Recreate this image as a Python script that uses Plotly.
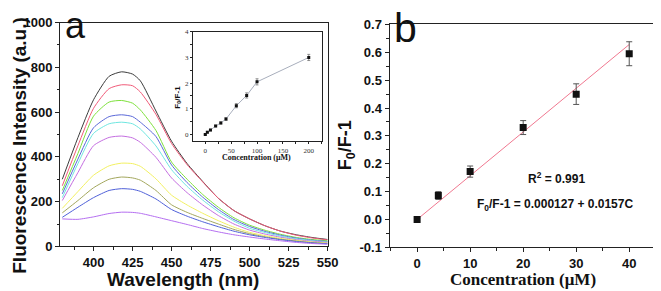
import plotly.graph_objects as go

# ---------------- Panel a: fluorescence spectra ----------------
wavelength = [380, 390, 400, 410, 418, 425, 430, 440, 450, 460, 470, 480, 490, 500, 510, 520, 530, 540, 550]
spec_black = [300, 486, 655, 760, 780, 770, 740, 605, 470, 370, 290, 215, 160, 123, 92, 68, 52, 40, 31]
spec_red = [271, 450, 617, 705, 722, 718, 690, 590, 460, 365, 288, 215, 160, 123, 92, 68, 50, 38, 29]
spec_green = [250, 415, 582, 645, 652, 640, 610, 518, 377, 300, 232, 175, 128, 95, 72, 54, 40, 31, 25]
spec_blue = [235, 390, 530, 580, 588, 580, 555, 491, 364, 285, 220, 165, 120, 89, 67, 50, 37, 28, 22]
spec_cyan = [218, 370, 505, 548, 555, 548, 525, 449, 343, 268, 207, 155, 113, 81, 62, 46, 34, 26, 20]
spec_magenta = [205, 330, 450, 487, 493, 485, 465, 398, 306, 240, 185, 138, 100, 73, 55, 41, 30, 23, 18]
spec_yellow = [170, 245, 318, 360, 372, 370, 358, 302, 229, 185, 148, 115, 86, 63, 48, 36, 27, 20, 15]
spec_olive = [150, 205, 262, 300, 310, 306, 296, 250, 186, 152, 125, 100, 76, 57, 43, 32, 24, 17, 13]
spec_blue2 = [130, 175, 218, 250, 258, 255, 246, 212, 165, 135, 110, 88, 68, 52, 40, 30, 22, 16, 12]
spec_purple = [123, 121, 132, 147, 153, 152, 148, 132, 115, 98, 80, 65, 52, 42, 33, 25, 18, 13, 10]

spectra = [spec_black, spec_red, spec_green, spec_blue, spec_cyan,
           spec_magenta, spec_yellow, spec_olive, spec_blue2, spec_purple]
spec_colors = ["#3c3c3c", "#f05a78", "#7ee03c", "#5a68d8", "#6ee6e0",
               "#c46ee0", "#f2f060", "#a2a65c", "#4f60d8", "#b46ef0"]

wl_ticks = [400, 425, 450, 475, 500, 525, 550]
int_ticks = [0, 200, 400, 600, 800, 1000]

# ---------------- Inset: F0/F-1 vs concentration ----------------
inset_conc = [0, 4, 10, 20, 30, 40, 60, 80, 100, 200]
inset_ratio = [0.0, 0.09, 0.17, 0.33, 0.45, 0.60, 1.12, 1.52, 2.05, 3.0]
inset_err = [0.02, 0.03, 0.03, 0.03, 0.04, 0.05, 0.08, 0.1, 0.12, 0.12]

# ---------------- Panel b: linear range ----------------
conc_b = [0, 4, 10, 20, 30, 40]
ratio_b = [0.0, 0.086, 0.172, 0.33, 0.45, 0.595]
err_b = [0.005, 0.014, 0.02, 0.025, 0.037, 0.043]
fit_intercept = 0.000127
fit_slope = 0.0157
fit_x = [0, 40]

conc_ticks = [0, 10, 20, 30, 40]
ratio_ticks = [-0.1, 0.0, 0.1, 0.2, 0.3, 0.4, 0.5, 0.6, 0.7]

W, H = 661, 291
def px(x):
    return x / W
def py(y):
    return 1 - y / H

SANS = "Liberation Sans, Arial, sans-serif"
SERIF = "Liberation Serif, Times New Roman, serif"

fig = go.Figure()

for vals, col in zip(spectra, spec_colors):
    fig.add_trace(go.Scatter(x=wavelength, y=vals, mode="lines",
                             line=dict(color=col, width=1, shape="spline", smoothing=0.6),
                             xaxis="x", yaxis="y", showlegend=False, hoverinfo="skip"))

fig.add_trace(go.Scatter(x=inset_conc, y=inset_ratio, mode="lines+markers",
                         line=dict(color="#a8aebc", width=1),
                         marker=dict(symbol="square", size=3, color="#111"),
                         error_y=dict(type="data", array=inset_err, color="#666", thickness=0.7, width=1.5),
                         xaxis="x2", yaxis="y2", showlegend=False))

fig.add_trace(go.Scatter(x=fit_x, y=[fit_intercept + fit_slope * v for v in fit_x], mode="lines",
                         line=dict(color="#f07890", width=1),
                         xaxis="x3", yaxis="y3", showlegend=False))
fig.add_trace(go.Scatter(x=conc_b, y=ratio_b, mode="markers",
                         marker=dict(symbol="square", size=7, color="#111"),
                         error_y=dict(type="data", array=err_b, color="#555", thickness=1, width=3),
                         xaxis="x3", yaxis="y3", showlegend=False))

axis_common = dict(showgrid=False, zeroline=False, showline=True, linecolor="#222", linewidth=1,
                   mirror=True, ticks="outside", tickcolor="#222", tickwidth=1)
f13 = dict(family=SANS, size=13, color="#111")
small7 = dict(family=SERIF, size=7, color="#333")

def bold(vals, fmt="{}"):
    return ["<b>" + fmt.format(v) + "</b>" for v in vals]

fig.update_layout(
    width=W, height=H, margin=dict(l=0, r=0, t=0, b=0),
    paper_bgcolor="white", plot_bgcolor="white",
    xaxis=dict(**axis_common, domain=[px(53), px(325)], range=[378.6, 550],
               tickmode="array", tickvals=wl_ticks, ticktext=bold(wl_ticks),
               ticklen=4, minor=dict(ticks="outside", ticklen=2.5, dtick=12.5, tick0=400, tickcolor="#222"),
               tickfont=f13, anchor="y"),
    yaxis=dict(**axis_common, domain=[py(244), py(8)], range=[0, 1000],
               tickmode="array", tickvals=int_ticks, ticktext=bold(int_ticks),
               ticklen=4, minor=dict(ticks="outside", ticklen=2.5, dtick=100, tick0=0, tickcolor="#222"),
               tickfont=f13, anchor="x"),
    xaxis2=dict(**axis_common, domain=[px(188), px(319)], range=[-24, 225], dtick=50,
                ticklen=2, tickfont=small7, anchor="y2",
                minor=dict(ticks="outside", ticklen=1.5, dtick=25, tickcolor="#222")),
    yaxis2=dict(**axis_common, domain=[py(133), py(17.7)], range=[-0.26, 4], dtick=1,
                ticklen=2, tickfont=small7, anchor="x2",
                minor=dict(ticks="outside", ticklen=1.5, dtick=0.5, tickcolor="#222")),
    xaxis3=dict(**axis_common, domain=[px(388), px(656)], range=[-5.2, 44.5],
                tickmode="array", tickvals=conc_ticks, ticktext=bold(conc_ticks),
                ticklen=4, minor=dict(ticks="outside", ticklen=2.5, dtick=5, tick0=0, tickcolor="#222"),
                tickfont=f13, anchor="y3"),
    yaxis3=dict(**axis_common, domain=[py(245), py(10)], range=[-0.1, 0.7],
                tickmode="array", tickvals=ratio_ticks, ticktext=bold(ratio_ticks, "{:.1f}"),
                ticklen=4, minor=dict(ticks="outside", ticklen=2.5, dtick=0.05, tick0=0, tickcolor="#222"),
                tickfont=f13, anchor="x3"),
)

ann = []
def add(text, x, y, size, family=SANS, angle=0, xanchor="center", yanchor="middle", color="#111"):
    ann.append(dict(text=text, x=px(x), y=py(y), xref="paper", yref="paper", showarrow=False,
                    font=dict(family=family, size=size, color=color), textangle=angle,
                    xanchor=xanchor, yanchor=yanchor))

add("<b>Fluorescence Intensity (a.u.)</b>", 12, 137, 19, angle=-90)
add("<b>Wavelength (nm)</b>", 178, 279, 19)
add("a", 69, 11, 36)
add("<b>F<sub>0</sub>/F-1</b>", 172, 87, 8, angle=-90)
add("<b>Concentration (μM)</b>", 253, 150, 8, family=SERIF)
add("<b>F<sub>0</sub>/F-1</b>", 345, 137, 18, angle=-90)
add("<b>Concentration (μM)</b>", 524, 279, 17, family=SERIF)
add("b", 404, 14, 41)
add("<b>R<sup>2</sup> = 0.991</b>", 558, 172, 12)
add("<b>F<sub>0</sub>/F-1 = 0.000127 + 0.0157C</b>", 556, 200, 12)
fig.update_layout(annotations=ann)

fig.write_html("out.html")
